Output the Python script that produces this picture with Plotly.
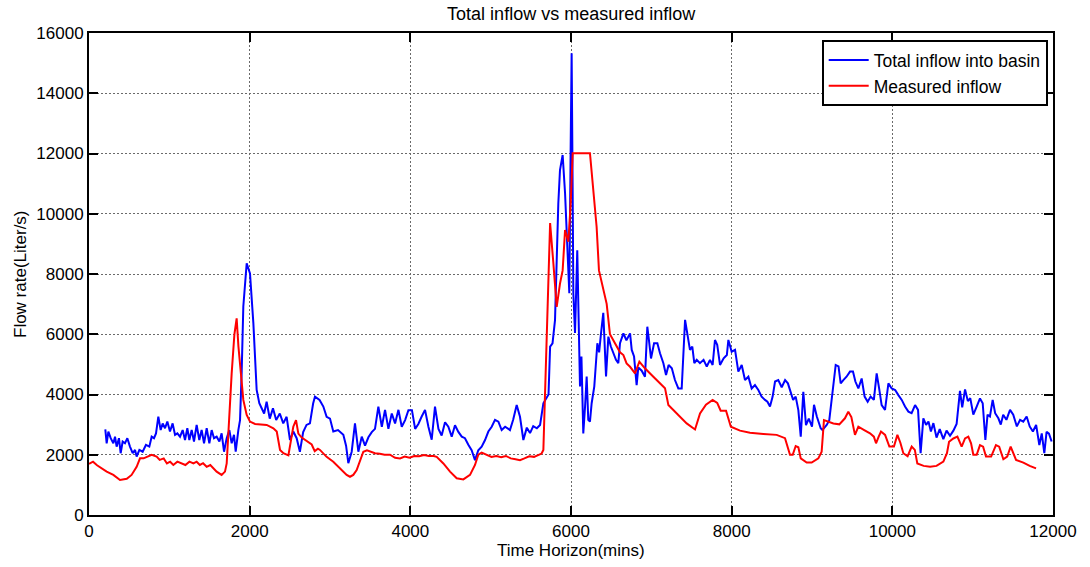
import plotly.graph_objects as go

# ---- Data ----
total_x = [203, 220, 241, 270, 303, 324, 344, 373, 394, 419, 448, 477, 510, 544, 573, 593, 627, 668, 709, 751,
           780, 809, 834, 863, 892, 917, 946, 975, 1008, 1041, 1071, 1100, 1133, 1166, 1195, 1224, 1249, 1278, 1307, 1340,
           1373, 1402, 1432, 1465, 1498, 1527, 1556, 1589, 1623, 1651, 1681, 1714, 1747, 1776, 1805, 1826, 1859, 1880, 1900, 1921,
           1963, 2004, 2046, 2087, 2120, 2150, 2180, 2211, 2250, 2290, 2330, 2375, 2418, 2460, 2502, 2543, 2585, 2625, 2666, 2708,
           2750, 2790, 2813, 2870, 2917, 2958, 3000, 3041, 3100, 3166, 3200, 3228, 3270, 3311, 3353, 3395, 3436, 3478, 3520, 3560,
           3602, 3645, 3685, 3727, 3769, 3810, 3852, 3893, 3935, 3976, 4020, 4060, 4100, 4140, 4183, 4225, 4266, 4307, 4350, 4390,
           4432, 4473, 4515, 4556, 4598, 4640, 4680, 4722, 4763, 4805, 4846, 4888, 4930, 4971, 5013, 5054, 5096, 5137, 5180, 5240,
           5280, 5324, 5365, 5407, 5450, 5490, 5530, 5575, 5615, 5656, 5698, 5720, 5740, 5770, 5801, 5822, 5842, 5863, 5896, 5926,
           5945, 5960, 5979, 5995, 6008, 6020, 6029, 6050, 6078, 6095, 6112, 6130, 6153, 6175, 6195, 6215, 6236, 6257, 6290, 6328,
           6350, 6374, 6402, 6436, 6465, 6495, 6527, 6560, 6589, 6610, 6652, 6690, 6735, 6756, 6785, 6817, 6838, 6880, 6921, 6950,
           6970, 6996, 7034, 7075, 7108, 7150, 7183, 7215, 7255, 7294, 7336, 7378, 7420, 7450, 7481, 7510, 7535, 7565, 7605, 7650,
           7690, 7730, 7763, 7792, 7820, 7855, 7900, 7940, 7959, 8000, 8042, 8083, 8125, 8166, 8208, 8249, 8290, 8332, 8373, 8415,
           8445, 8477, 8510, 8540, 8580, 8623, 8665, 8700, 8735, 8765, 8797, 8830, 8860, 8892, 8925, 8960, 9000, 9025, 9060, 9108,
           9130, 9183, 9215, 9244, 9270, 9295, 9330, 9357, 9390, 9430, 9473, 9510, 9540, 9577, 9618, 9655, 9693, 9730, 9770, 9805,
           9835, 9867, 9909, 9951, 9992, 10035, 10075, 10117, 10158, 10200, 10240, 10283, 10320, 10352, 10386, 10420, 10450, 10480, 10511, 10550,
           10590, 10635, 10675, 10718, 10760, 10800, 10842, 10870, 10905, 10940, 10970, 11008, 11050, 11091, 11125, 11158, 11185, 11215, 11249, 11280,
           11320, 11350, 11380, 11420, 11465, 11505, 11550, 11590, 11630, 11672, 11710, 11750, 11790, 11830, 11860, 11892, 11920, 11950, 11983]
total_y = [2845, 2380, 2770, 2550, 2380, 2600, 2270, 2550, 2050, 2440, 2380, 2550, 2270, 2050, 2160, 1940, 2160, 2100, 2330, 2270,
           2600, 2550, 2710, 3265, 2820, 3040, 2880, 3100, 2770, 3040, 2660, 2710, 2600, 2820, 2490, 2880, 2490, 2820, 2440, 2990,
           2490, 2820, 2380, 2880, 2380, 2820, 2550, 2600, 2440, 2710, 2100, 2550, 2820, 2380, 2660, 2100, 2820, 3150, 4700, 6920,
           8356, 8020, 6370, 4150, 3710, 3540, 3370, 3760, 3200, 3540, 3150, 3370, 3040, 3260, 2490, 2770, 2550, 2100, 2750, 2990,
           3040, 3700, 3930, 3820, 3600, 3260, 3200, 2770, 2820, 2660, 2300, 1720, 2100, 3040, 2100, 2600, 2300, 2580, 2750, 2860,
           3600, 2930, 3490, 2860, 3370, 3040, 3490, 2930, 3150, 3480, 3480, 2860, 3020, 3260, 3490, 2930, 2500, 3600, 2860, 2640,
           3080, 2930, 2600, 2980, 2760, 2600, 2550, 2330, 2150, 1820, 2150, 2270, 2490, 2770, 2930, 3160, 3100, 2820, 2930, 2820,
           3160, 3650, 3260, 2490, 2900, 2720, 2950, 2880, 2990, 3710, 3930, 4000, 5590, 5700, 6470, 8680, 10340, 11450, 11950, 10680,
           9400, 8700, 7360, 12000, 15330, 11000, 7360, 6040, 8790, 6500, 4270, 5260, 2710, 3600, 4600, 3160, 3100, 3710, 4270, 5700,
           5400, 6040, 6710, 4600, 5920, 5600, 5370, 5150, 5040, 5700, 6030, 5800, 6030, 5480, 5260, 4310, 4900, 4790, 4590, 6250,
           5810, 5195, 5700, 5700, 5370, 5040, 4650, 4980, 4870, 4480, 4200, 4200, 6480, 6040, 5480, 5590, 5040, 5150, 5040, 5150,
           4930, 5150, 4980, 5810, 5650, 4980, 5200, 5310, 5810, 5420, 5480, 4760, 4980, 4480, 4590, 4200, 4310, 4150, 3930, 3820,
           3760, 3600, 3930, 4430, 4480, 4240, 4480, 4370, 4090, 3820, 3930, 3480, 2600, 4090, 2980, 3200, 2930, 3660, 3270, 2880,
           2820, 2990, 3150, 3820, 4370, 4980, 4930, 4370, 4480, 4590, 4760, 4760, 4430, 4200, 4530, 3930, 3760, 3930, 3820, 4700,
           4210, 3650, 3490, 4370, 4200, 4150, 3980, 3820, 3600, 3430, 3380, 3650, 3490, 2050, 3210, 2990, 3100, 2770, 3050, 2570,
           2850, 2520, 2800, 2630, 2800, 3020, 4120, 3570, 4170, 3780, 3880, 3330, 3600, 3870, 3710, 2490, 3330, 3270, 3820, 3380,
           3210, 3000, 3330, 3160, 3490, 3330, 2940, 3160, 3100, 3270, 2940, 2770, 2990, 2320, 2710, 2050, 2760, 2700, 2440]

measured_x = [0, 12, 50, 100, 150, 220, 303, 386, 470, 530, 593, 635, 680, 738, 780, 842, 880, 930, 970, 1010,
              1050, 1100, 1150, 1200, 1250, 1300, 1340, 1380, 1420, 1465, 1510, 1550, 1589, 1651, 1693, 1714, 1740, 1776, 1810, 1838,
              1860, 1880, 1921, 1963, 2004, 2067, 2140, 2212, 2295, 2337, 2378, 2420, 2482, 2502, 2543, 2577, 2606, 2648, 2710, 2772,
              2810, 2850, 2875, 2958, 3041, 3124, 3207, 3249, 3290, 3332, 3373, 3415, 3460, 3500, 3560, 3620, 3680, 3747, 3810, 3872,
              3930, 3990, 4050, 4110, 4170, 4230, 4290, 4328, 4411, 4494, 4577, 4660, 4743, 4805, 4846, 4888, 4950, 5010, 5070, 5130,
              5190, 5250, 5310, 5365, 5420, 5480, 5540, 5600, 5634, 5656, 5700, 5740, 5781, 5822, 5863, 5896, 5926, 5967, 5996, 6021,
              6236, 6278, 6319, 6348, 6402, 6444, 6485, 6527, 6610, 6652, 6692, 6735, 6797, 6851, 6920, 7025, 7100, 7170, 7212, 7316,
              7440, 7544, 7606, 7680, 7763, 7820, 7863, 7930, 7990, 8104, 8228, 8394, 8560, 8664, 8700, 8726, 8760, 8797, 8830, 8860,
              8934, 8996, 9079, 9120, 9149, 9200, 9266, 9340, 9410, 9452, 9490, 9535, 9577, 9650, 9722, 9770, 9797, 9830, 9859, 9910,
              9963, 10020, 10063, 10100, 10137, 10190, 10241, 10280, 10311, 10390, 10470, 10550, 10635, 10680, 10706, 10760, 10810, 10863, 10905, 10946,
              10980, 11008, 11050, 11091, 11130, 11166, 11230, 11290, 11330, 11382, 11430, 11473, 11505, 11540, 11631, 11710, 11789]
measured_y = [1700, 1715, 1770, 1650, 1560, 1440, 1330, 1160, 1200, 1330, 1600, 1880, 1880, 1940, 2000, 1940, 1830, 1880, 1710, 1770,
              1660, 1770, 1710, 1660, 1770, 1710, 1770, 1660, 1720, 1600, 1660, 1550, 1440, 1330, 1440, 1710, 3000, 4700, 6000, 6530,
              5600, 4920, 3820, 3320, 3100, 3020, 3000, 2990, 2880, 2770, 2160, 2050, 1980, 2260, 2930, 3150, 2700, 2570, 2450, 2340,
              2120, 2200, 2160, 1930, 1770, 1550, 1330, 1270, 1330, 1490, 1820, 2100, 2150, 2100, 2050, 2030, 2000, 2000, 1900, 1880,
              1940, 1900, 1960, 1950, 1990, 1960, 1960, 1930, 1710, 1440, 1220, 1180, 1330, 1660, 2000, 2070, 2000, 1930, 1960, 1920,
              1960, 1880, 1850, 1820, 1880, 1950, 1930, 2000, 2040, 2160, 6000, 9690, 8340, 6910, 7680, 8120, 9460, 9070, 10340, 12010,
              12010, 10890, 9560, 8120, 7450, 7010, 6000, 5780, 5400, 5310, 5030, 4920, 4700, 5090, 4870, 4590, 4400, 4210, 3650, 3370,
              3040, 2840, 3370, 3660, 3820, 3720, 3460, 3460, 2930, 2800, 2730, 2690, 2660, 2550, 2200, 2000, 2000, 2290, 2250, 1880,
              1740, 1740, 1880, 2100, 3150, 3090, 3040, 3010, 3210, 3430, 3250, 2660, 2930, 2820, 2710, 2600, 2380, 2600, 2770, 2660,
              2270, 2270, 2660, 2400, 2050, 1950, 2270, 2160, 1710, 1630, 1600, 1630, 1770, 2050, 2430, 2540, 2600, 2270, 2540, 2600,
              2380, 2000, 2000, 2320, 2270, 1940, 1940, 2320, 2270, 1850, 1940, 2270, 2050, 1830, 1740, 1630, 1550]

x_ticks = [0, 2000, 4000, 6000, 8000, 10000, 12000]
y_ticks = [0, 2000, 4000, 6000, 8000, 10000, 12000, 14000, 16000]

FONT = "Liberation Sans, Arial, sans-serif"

fig = go.Figure()
fig.add_trace(go.Scatter(x=total_x, y=total_y, mode="lines", name="Total inflow into basin",
                         line=dict(color="#0000ff", width=2)))
fig.add_trace(go.Scatter(x=measured_x, y=measured_y, mode="lines", name="Measured inflow",
                         line=dict(color="#ff0000", width=2)))

axis_common = dict(
    showline=True, linecolor="black", linewidth=2, mirror="ticks",
    ticks="inside", ticklen=9, tickwidth=1.5, tickcolor="black",
    showgrid=True, gridcolor="#6a6a6a", gridwidth=1, griddash="2px,2px",
    zeroline=False, tickfont=dict(family=FONT, size=17, color="black"),
)

fig.update_xaxes(range=[0, 12000], tickvals=x_ticks, ticktext=[str(v) for v in x_ticks], **axis_common)
fig.update_yaxes(range=[0, 16000], tickvals=y_ticks, ticktext=[str(v) for v in y_ticks], **axis_common)

fig.update_layout(
    width=1090, height=567,
    margin=dict(l=89, r=37, t=33, b=52),
    paper_bgcolor="white", plot_bgcolor="white",
    font=dict(family=FONT, size=17, color="black"),
    title=dict(text="Total inflow vs measured inflow", x=0.524, xanchor="center",
               y=1 - 14 / 567, yanchor="middle", yref="container",
               font=dict(family=FONT, size=18, color="black")),
    showlegend=True,
    legend=dict(x=0.9945, y=0.985, xanchor="right", yanchor="top",
                bgcolor="white", bordercolor="black", borderwidth=2,
                font=dict(family=FONT, size=17.5, color="black"),
                tracegroupgap=0, itemwidth=40),
    annotations=[
        dict(text="Time Horizon(mins)", xref="paper", yref="paper", x=0.5, y=-(550 - 515) / 482,
             xanchor="center", yanchor="middle", showarrow=False, font=dict(family=FONT, size=17)),
        dict(text="Flow rate(Liter/s)", xref="paper", yref="paper", x=-(89 - 20) / 964, y=0.5,
             xanchor="center", yanchor="middle", textangle=-90, showarrow=False, font=dict(family=FONT, size=17)),
    ],
)

fig.write_html("out.html")
